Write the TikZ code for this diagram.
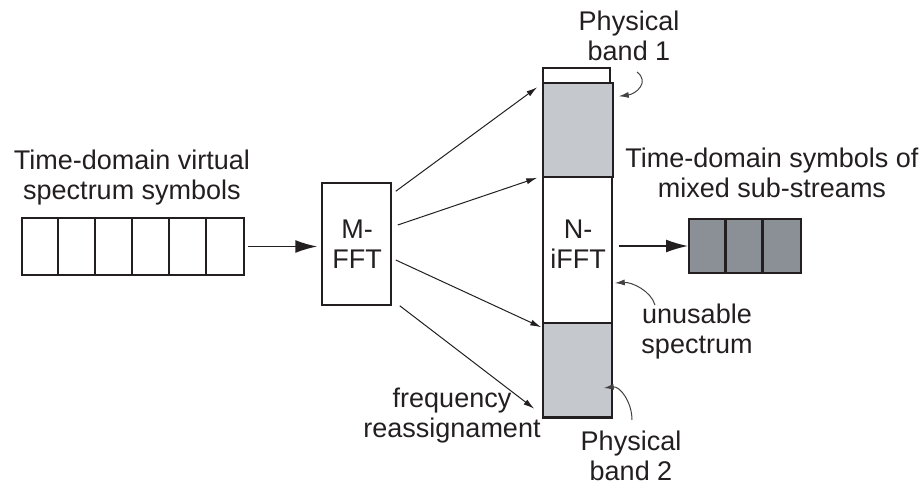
\documentclass[tikz,border=0pt]{standalone}
\usepackage{fontspec}
\setmainfont{Liberation Sans}
\usetikzlibrary{calc,arrows.meta}
\definecolor{ink}{HTML}{231F20}
\definecolor{bandgray}{HTML}{C5C8CD}
\definecolor{darkgray}{HTML}{8B9097}
\tikzset{
  box/.style={draw=ink, inner sep=0pt, line width=1.5pt},
  txt/.style={align=center, inner sep=0pt, text=ink, font=\fontsize{27}{30}\selectfont},
  bigarr/.style={draw=ink, line width=1.5pt, -{Latex[length=22pt,width=13pt]}},
  conn/.style={draw=ink, line width=1pt, -{Latex[length=11pt,width=6pt]}},
  curv/.style={draw=ink!85, line width=1pt, -{Latex[length=10pt,width=6pt]}},
}
\begin{document}
\begin{tikzpicture}[x=1pt,y=-1pt]
\useasboundingbox (0,0) rectangle (923,487);
% left queue
\node[box, line width=2pt, minimum width=222pt, minimum height=57pt] (q) at (133,246.5) {};
\foreach \i in {1,...,5}
  \draw[ink, line width=2pt] ($(q.north west)+(\i*37,0)$) -- ($(q.south west)+(\i*37,0)$);
\node[txt] (lq) at (132,178) {Time-domain virtual\\spectrum symbols};
% M-FFT
\node[box, minimum width=69pt, minimum height=122pt] (fft) at (356.5,244) {};
\node[txt] (fftl) at (357,244) {M-\\FFT};
% N-iFFT column
\node[box, minimum width=67pt, minimum height=15pt] (top) at (576.5,75.5) {};
\node[box, fill=bandgray, minimum width=70pt, minimum height=94pt] (b1) at (578,130) {};
\node[box, minimum width=69pt, minimum height=146pt] (mid) at (577.5,250) {};
\node[box, fill=bandgray, minimum width=69pt, minimum height=94pt] (b2) at (577.5,370) {};
\draw[ink, line width=3pt] (b2.south west) -- (b2.south east);
\node[txt] (ifftl) at (578,244) {N-\\iFFT};
% right queue
\node[box, fill=darkgray, line width=2pt, minimum width=112pt, minimum height=54pt] (r) at (745,246) {};
\foreach \i in {1,2}
  \draw[ink, line width=3pt] ($(r.north west)+(\i*37.33,0)$) -- ($(r.south west)+(\i*37.33,0)$);
\node[txt] (rq) at (772,173) {Time-domain symbols of\\mixed sub-streams};
% main arrows
\draw[bigarr, shorten <=3pt, shorten >=4pt] (q.east) -- (q.east -| fft.west);
\draw[bigarr, shorten <=6pt] (r.west -| mid.east) -- (r.west);
% frequency reassignment arrows
\draw[conn] ($(fft.north east)+(4,9)$) -- ($(b1.north west)+(-5,5)$);
\draw[conn] ($(fft.east)+(6,-19)$) -- ($(b1.south west)+(-5,0)$);
\draw[conn] ($(fft.east)+(4,16)$) -- ($(b2.north west)+(-1,5)$);
\draw[conn] ($(fft.south east)+(8,0)$) -- ($(b2.south west)+(-8,-9)$);
\node[txt] (fr) at (452,416) {frequency\\reassignament};
% annotations
\node[txt] (pb1) at (629,36) {Physical\\band 1};
\coordinate (c1) at (637,72);
\draw[curv] (c1) .. controls (650,82) and (636,94) .. ($(b1.north east)+(5,14)$);
\node[txt] (us) at (697,332) {unusable\\spectrum};
\coordinate (c2) at (655,305);
\draw[curv] (c2) .. controls (651,291) and (632,282) .. ($(mid.east)+(2,33)$);
\node[txt] (pb2) at (631,456) {Physical\\band 2};
\coordinate (c3) at (632,420);
\draw[curv] (c3) .. controls (632,402) and (620,386) .. ($(b2.east)+(-9,18)$);
\end{tikzpicture}
\end{document}
